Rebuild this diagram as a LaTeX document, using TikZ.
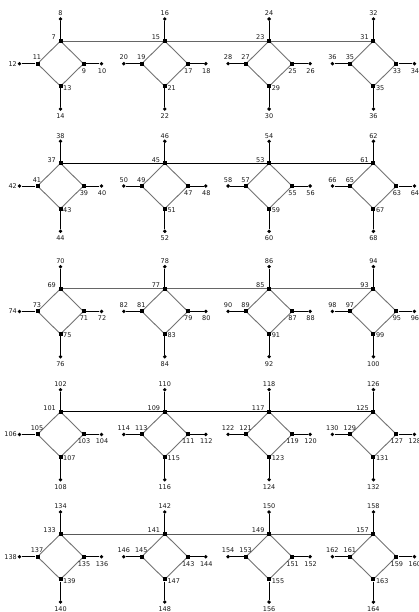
\documentclass[tikz,border=0pt]{standalone}
\usepackage{fontspec}
\setmainfont{DejaVu Sans}
\pgfdeclarelayer{bg}
\pgfsetlayers{bg,main}
\tikzset{
  vsq/.style={rectangle, fill=black, inner sep=0pt, minimum size=4pt},
  vdot/.style={circle, fill=black, inner sep=0pt, minimum size=3.8pt},
  lab/.style={inner sep=0pt, font=\fontsize{6.5}{6.5}\selectfont, text=black!90},
  dia/.style={draw=black!55, line width=0.9pt},
  stem/.style={draw=black, line width=0.9pt},
  hline/.style={line width=0.9pt},
}
\begin{document}
\begin{tikzpicture}[x=1pt,y=-1pt]
\useasboundingbox (0,0) rectangle (419,612);
\foreach \r/\yy/\hc in {0/41/black!60, 1/163.3/black, 2/288.7/black!60, 3/411.7/black, 4/534/black!65} {
  \pgfmathtruncatemacro\base{\r==0 ? 7 : 5+32*\r}
  \foreach \c in {0,1,2,3} {
    \pgfmathsetmacro\xx{60.5+104.3*\c}
    \pgfmathtruncatemacro\n{\base+8*\c}
    \pgfmathtruncatemacro\na{\n+1}
    \pgfmathtruncatemacro\nr{\n+2}
    \pgfmathtruncatemacro\nrp{\n+3}
    \pgfmathtruncatemacro\nl{\n+4}
    \pgfmathtruncatemacro\nlp{\n+5}
    \pgfmathtruncatemacro\nb{\n==31 ? 35 : \n+6}
    \pgfmathtruncatemacro\nbp{\n==31 ? 36 : \n+7}
    % vertices
    \node[vsq] (t\r\c) at (\xx,\yy) {};
    \node[vdot] (a\r\c) at (\xx,\yy-22) {};
    \node[vsq] (r\r\c) at (\xx+23,\yy+22.7) {};
    \node[vdot] (rp\r\c) at (\xx+41,\yy+22.7) {};
    \node[vsq] (l\r\c) at (\xx-23,\yy+22.7) {};
    \node[vdot] (lp\r\c) at (\xx-41,\yy+22.7) {};
    \node[vsq] (b\r\c) at (\xx,\yy+45.3) {};
    \node[vdot] (bp\r\c) at (\xx,\yy+68) {};
    % edges
    \begin{pgfonlayer}{bg}
      \draw[dia] (t\r\c.center) -- (r\r\c.center) -- (b\r\c.center) -- (l\r\c.center) -- (t\r\c.center);
      \draw[stem] (t\r\c) -- (a\r\c);
      \draw[stem] (r\r\c) -- (rp\r\c);
      \draw[stem] (l\r\c) -- (lp\r\c);
      \draw[stem] (b\r\c) -- (bp\r\c);
    \end{pgfonlayer}
    % labels
    \node[lab, anchor=east] (tl\r\c) at (\xx-4.5,\yy-3.5) {\n};
    \node[lab, anchor=south] (al\r\c) at (\xx,\yy-25) {\na};
    \node[lab, anchor=north] (rl\r\c) at (\xx+23.5,\yy+27.2) {\nr};
    \node[lab, anchor=north] (rpl\r\c) at (\xx+41.5,\yy+27.2) {\nrp};
    \node[lab, anchor=south] (ll\r\c) at (\xx-23.5,\yy+19.2) {\nl};
    \ifnum\c=0
      \node[lab, anchor=east] (lpl\r\c) at (\xx-43.5,\yy+22.7) {\nlp};
    \else
      \node[lab, anchor=south] (lpl\r\c) at (\xx-41,\yy+19.2) {\nlp};
    \fi
    \node[lab, anchor=west] (bl\r\c) at (\xx+2.5,\yy+46.8) {\nb};
    \node[lab, anchor=north] (bpl\r\c) at (\xx,\yy+72.5) {\nbp};
  }
  \begin{pgfonlayer}{bg}
    \draw[hline, draw=\hc] (t\r0.center) -- (t\r3.center);
  \end{pgfonlayer}
}
\end{tikzpicture}
\end{document}
